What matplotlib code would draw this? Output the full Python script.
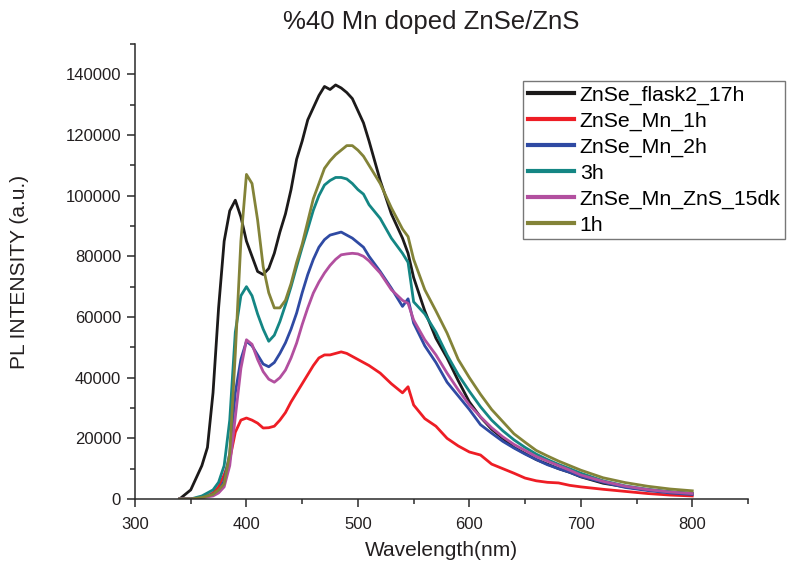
import matplotlib
matplotlib.use('Agg')
import matplotlib.pyplot as plt
from matplotlib.ticker import MultipleLocator, FormatStrFormatter

plt.rcParams['font.family'] = ['Liberation Sans', 'DejaVu Sans']

# wavelength grid (nm)
wl = [340, 350, 360, 365, 370, 375, 380, 385, 390, 395, 400, 405, 410, 415, 420,
      425, 430, 435, 440, 445, 450, 455, 460, 465, 470, 475, 480, 485, 490, 495,
      500, 505, 510, 520, 530, 540, 545, 550, 560, 570, 580, 590, 600, 610, 620,
      630, 640, 650, 660, 670, 680, 690, 700, 720, 740, 760, 780, 800]

flask2_17h = [0, 3000, 11000, 17000, 35000, 63000, 85000, 95000, 98500, 93000, 85000,
              80000, 75000, 74000, 76000, 81000, 88000, 94000, 102000, 112000, 118000,
              125000, 129000, 133000, 136000, 135000, 136500, 135500, 134000, 132000,
              128000, 124000, 118000, 105000, 94000, 86000, 81000, 73000, 62000, 53000,
              46500, 39000, 32000, 27000, 23000, 20000, 17000, 15000, 13000, 11500,
              10000, 8800, 7300, 5200, 4000, 3000, 2300, 1800]

mn_1h = [0, 0, 500, 1000, 2000, 4000, 8000, 13000, 22000, 26000, 26700, 26000, 25000,
         23400, 23500, 24000, 26000, 28500, 32000, 35000, 38000, 41000, 44000, 46500,
         47500, 47500, 48000, 48500, 48000, 47000, 46000, 45000, 44000, 41500, 38000,
         35000, 37000, 31000, 26500, 24000, 20000, 17500, 15500, 14500, 11500, 10000,
         8500, 6900, 6000, 5500, 5300, 4500, 4000, 3200, 2500, 1800, 1300, 1000]

mn_2h = [0, 0, 500, 1000, 1500, 2500, 6000, 15000, 35000, 46000, 52000, 50500, 47500,
         44500, 43600, 45000, 48000, 51500, 56000, 61300, 68000, 74000, 79000, 83000,
         85500, 87000, 87500, 88000, 87000, 86000, 84500, 83000, 80000, 75000, 69500,
         63500, 66000, 58000, 50500, 45000, 38500, 34000, 29500, 24500, 21700, 19000,
         16800, 14800, 13000, 11300, 10000, 8800, 7400, 5500, 3800, 2800, 2000, 1500]

h3 = [0, 0, 1000, 2000, 3000, 5500, 11000, 26000, 55000, 67000, 70000, 67000, 61000,
      56000, 52000, 54000, 58500, 64000, 70000, 76600, 83000, 89000, 95200, 100000,
      103500, 105000, 106000, 106000, 105500, 104000, 102000, 100500, 97000, 92500,
      86000, 81000, 78000, 65000, 61000, 55000, 47500, 41000, 35500, 30400, 26000,
      22500, 19500, 17000, 14800, 13000, 11400, 10000, 8500, 6000, 4300, 3200, 2400, 1800]

zns_15dk = [0, 0, 300, 700, 1000, 2000, 4000, 11000, 27000, 43000, 52500, 51000, 46000,
            42000, 39500, 38500, 40000, 42500, 46500, 51400, 57500, 63000, 67900, 71500,
            74500, 77000, 79000, 80500, 80800, 81000, 80800, 80000, 78500, 74500, 69000,
            65500, 64500, 59000, 52500, 47500, 41500, 36000, 31000, 27100, 23500, 20500,
            18000, 16000, 14000, 12500, 11000, 9500, 7900, 5800, 4200, 3100, 2300, 1800]

h1 = [0, 0, 500, 1000, 1500, 3000, 5000, 15000, 48000, 85000, 107000, 104000, 92000,
      76600, 68000, 63000, 63000, 65500, 71000, 78000, 84000, 91500, 99000, 104000,
      109000, 111500, 113500, 115000, 116500, 116500, 115000, 113000, 110000, 104000,
      96000, 89000, 86500, 79000, 69000, 62000, 54700, 46000, 40000, 34500, 29500,
      25500, 21500, 18700, 16000, 14200, 12500, 11000, 9500, 7000, 5400, 4200, 3300, 2700]

labels = ['ZnSe_flask2_17h', 'ZnSe_Mn_1h', 'ZnSe_Mn_2h', '3h', 'ZnSe_Mn_ZnS_15dk', '1h']
colors = ['#1c1a1a', '#ee1d25', '#2f4aa3', '#148684', '#b24f9f', '#838338']
series = [flask2_17h, mn_1h, mn_2h, h3, zns_15dk, h1]

fig = plt.figure(figsize=(7.87, 5.69), dpi=100)
ax = fig.add_axes([135/787, 1 - 499/569, (748-135)/787, (499-44)/569])

for s, lab, c in zip(series, labels, colors):
    ax.plot(wl, s, color=c, lw=2.0, label=lab)

ax.set_xlim(300, 850)
ax.set_ylim(0, 150000)
ax.xaxis.set_major_locator(MultipleLocator(100))
ax.xaxis.set_minor_locator(MultipleLocator(50))
ax.yaxis.set_major_locator(MultipleLocator(20000))
ax.yaxis.set_minor_locator(MultipleLocator(10000))
ax.yaxis.set_major_formatter(FormatStrFormatter('%d'))

for side in ['top', 'right']:
    ax.spines[side].set_visible(False)
for side in ['left', 'bottom']:
    ax.spines[side].set_linewidth(1.1)
    ax.spines[side].set_color('#2a2a2a')

ax.tick_params(which='major', direction='out', length=6, width=1.1, labelsize=12,
               color='#2a2a2a', labelcolor='#231f20', pad=4)
ax.tick_params(axis='x', which='major', pad=7)
ax.tick_params(which='minor', direction='out', length=3.5, width=1.1, color='#2a2a2a')

ax.set_xlabel('Wavelength(nm)', fontsize=15, color='#231f20')
ax.set_ylabel('PL INTENSITY (a.u.)', fontsize=15, color='#231f20')
ax.yaxis.set_label_coords(-0.173, 0.5)
ax.xaxis.set_label_coords(0.5, -0.093)

fig.text(431/787, 1 - 22/569, '%40 Mn doped ZnSe/ZnS', ha='center', va='center',
         fontsize=18.5, color='#231f20')

leg = ax.legend(loc='upper left', bbox_to_anchor=(0.633, 0.919), fontsize=15.3,
                frameon=True, fancybox=False, handlelength=2.2, labelspacing=0.32,
                borderpad=0.22, handletextpad=0.25, borderaxespad=0)
leg.get_frame().set_edgecolor('#555555')
leg.get_frame().set_linewidth(1.0)
for line in leg.get_lines():
    line.set_linewidth(3.0)

fig.savefig('out.png', dpi=100)
